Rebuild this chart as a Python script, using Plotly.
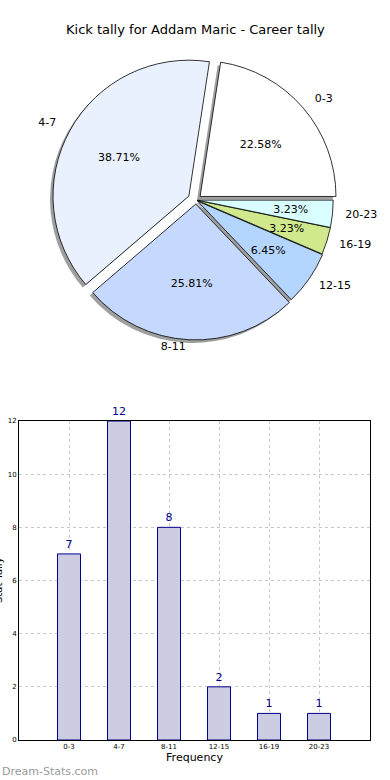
import plotly.graph_objects as go

categories = ["0-3", "4-7", "8-11", "12-15", "16-19", "20-23"]
counts = [7, 12, 8, 2, 1, 1]
pie_colors = ["#ffffff", "#eaf1fe", "#c5d8fe", "#b4d5fe", "#cfe98c", "#d9feff"]
pulls = [0.04, 0.06, 0.03, 0.015, 0.01, 0.01]
label_extra = [0.08, 0.09, 0.0, 0.06, 0.07, 0.07]
title_text = "Kick tally for Addam Maric - Career tally"
x_title = "Frequency"
y_title = "Stat Tally"
watermark = "Dream-Stats.com"

W, H = 390, 780
FONT = "DejaVu Sans"

def px_x(v):
    return v / W

def px_y(v):
    return 1 - v / H

# first slice starts at 3 o'clock and runs counterclockwise
rot = 90 - 360 * counts[0] / sum(counts)

cx, cy, half = 196, 200, 144
r_main = half / (1 + max(pulls))
label_pulls = [p + e for p, e in zip(pulls, label_extra)]
half_lab = r_main * (1 + max(label_pulls))

# transparent ring that carries the percentages at ~0.6 of the radius
ring_outer = 0.76
ring_hole = 0.55
r_ring = r_main * ring_outer
ring_pulls = [p / ring_outer for p in pulls]
half_ring = r_ring * (1 + max(ring_pulls))

def dom(c_x, c_y, h):
    return dict(x=[px_x(c_x - h), px_x(c_x + h)], y=[px_y(c_y + h), px_y(c_y - h)])

sh = 3
fig = go.Figure()

common = dict(labels=categories, values=counts, sort=False, direction="counterclockwise",
              rotation=rot, showlegend=False, hoverinfo="skip")

fig.add_trace(go.Pie(**common, pull=pulls, domain=dom(cx - sh, cy + sh, half),
                     marker=dict(colors=["rgba(80,80,80,0.55)"] * len(counts), line=dict(width=0)),
                     textinfo="none"))
fig.add_trace(go.Pie(**common, pull=pulls, domain=dom(cx, cy, half),
                     marker=dict(colors=pie_colors, line=dict(color="#000000", width=0.8)),
                     textinfo="none"))
fig.add_trace(go.Pie(**common, pull=ring_pulls, hole=ring_hole, domain=dom(cx, cy, half_ring),
                     marker=dict(colors=["rgba(0,0,0,0)"] * len(counts), line=dict(width=0)),
                     texttemplate="%{percent:.2%}", textposition="inside",
                     insidetextorientation="horizontal",
                     textfont=dict(family=FONT, size=11, color="#000000")))
fig.add_trace(go.Pie(**common, pull=label_pulls, domain=dom(cx, cy, half_lab),
                     marker=dict(colors=["rgba(0,0,0,0)"] * len(counts), line=dict(width=0)),
                     texttemplate="%{label}", textposition="outside",
                     outsidetextfont=dict(family=FONT, size=11, color="#000000")))

fig.add_trace(go.Bar(x=categories, y=counts, width=0.46,
                     marker=dict(color="#cccce3", line=dict(color="#00008b", width=1)),
                     text=[str(c) for c in counts], textposition="outside",
                     textfont=dict(family=FONT, size=11, color="#00008b"),
                     cliponaxis=False, showlegend=False, hoverinfo="skip"))

fig.update_layout(
    width=W, height=H, margin=dict(l=0, r=0, t=0, b=0, autoexpand=False),
    paper_bgcolor="white", plot_bgcolor="white",
    font=dict(family=FONT, color="#000000"),
    uniformtext=dict(mode="show", minsize=11),
    xaxis=dict(domain=[px_x(19), px_x(370)], anchor="y", range=[-1, 6.02], automargin=False,
               showline=True, mirror=True, linecolor="#000000", linewidth=1,
               showgrid=True, gridcolor="#c8c8c8", griddash="dot", gridwidth=1,
               ticks="", tickfont=dict(family=FONT, size=7, color="#000000"),
               title=dict(text=x_title, font=dict(family=FONT, size=11), standoff=2),
               zeroline=False, fixedrange=True),
    yaxis=dict(domain=[px_y(740), px_y(421)], anchor="x", range=[0, 12], dtick=2, automargin=False,
               showline=True, mirror=True, linecolor="#000000", linewidth=1,
               showgrid=True, gridcolor="#c8c8c8", griddash="dot", gridwidth=1,
               ticks="", tickfont=dict(family=FONT, size=7, color="#000000"),
               zeroline=False, fixedrange=True),
    annotations=[
        dict(text=title_text, xref="paper", yref="paper", x=px_x(195), y=px_y(30),
             xanchor="center", yanchor="middle", showarrow=False,
             font=dict(family=FONT, size=13, color="#000000")),
        dict(text=watermark, xref="paper", yref="paper", x=px_x(0), y=px_y(771),
             xanchor="left", yanchor="middle", showarrow=False,
             font=dict(family=FONT, size=11, color="#9a9a9a")),
        dict(text=y_title, xref="paper", yref="paper", x=px_x(-2), y=px_y(580),
             xanchor="center", yanchor="middle", showarrow=False, textangle=-90,
             font=dict(family=FONT, size=10, color="#000000")),
    ],
)

fig.write_html("out.html", config={"displayModeBar": False},
               post_script="document.body.style.margin='0';document.body.style.overflow='hidden';")
